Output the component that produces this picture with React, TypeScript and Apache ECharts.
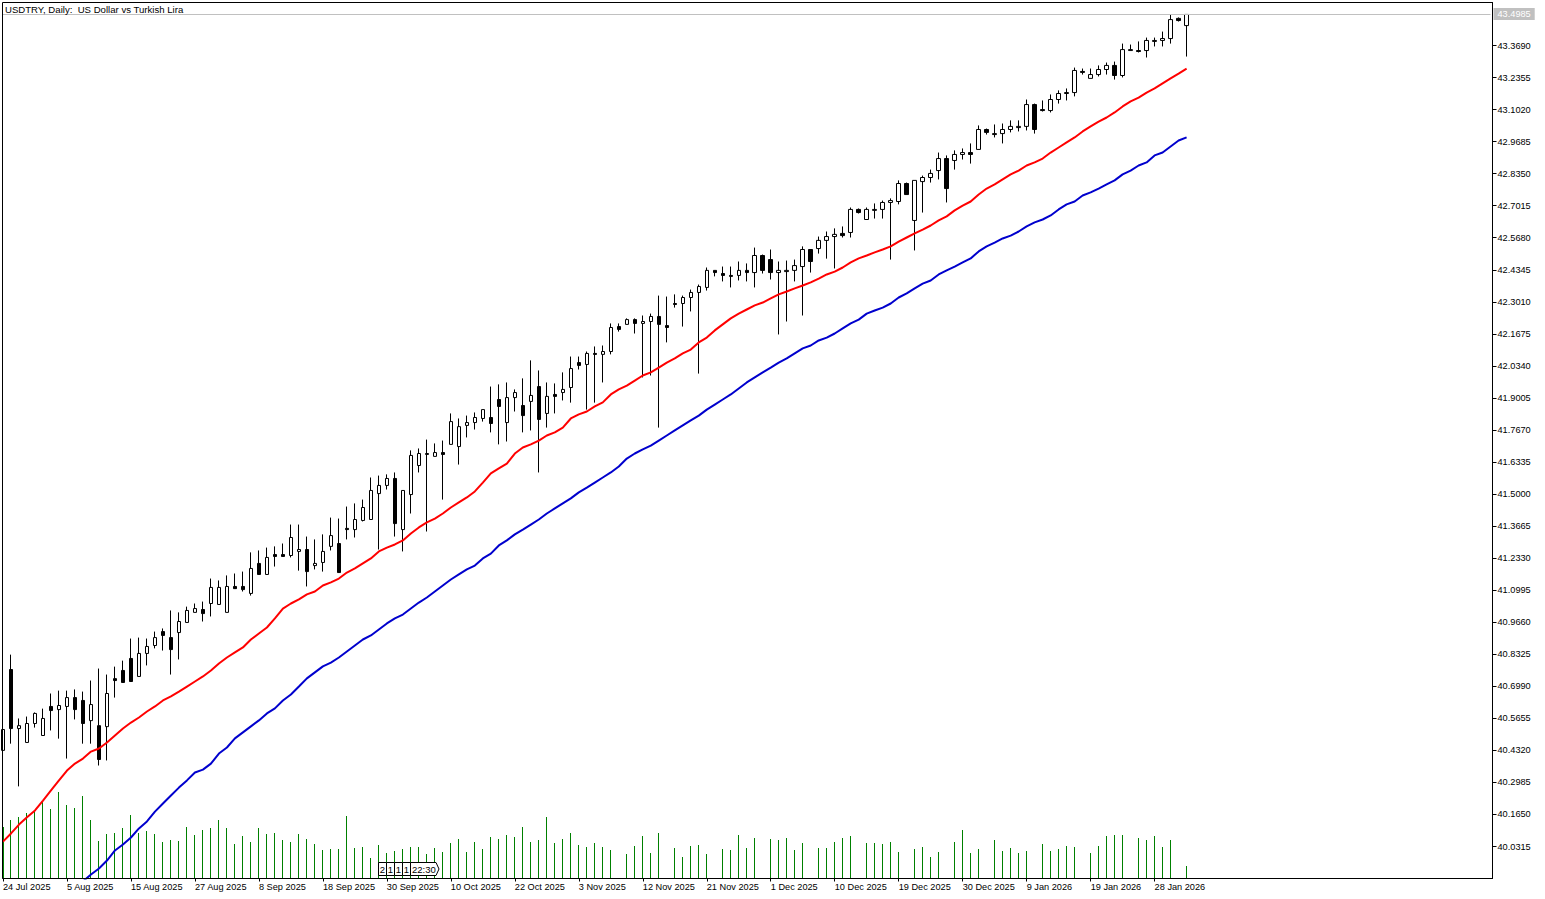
import React, { useEffect, useRef } from "react";
import * as echarts from "echarts";

const titleText = "USDTRY, Daily:  US Dollar vs Turkish Lira";
const lastPrice = 43.4985;

const tickDates = ["24 Jul 2025","5 Aug 2025","15 Aug 2025","27 Aug 2025","8 Sep 2025","18 Sep 2025","30 Sep 2025","10 Oct 2025","22 Oct 2025","3 Nov 2025","12 Nov 2025","21 Nov 2025","1 Dec 2025","10 Dec 2025","19 Dec 2025","30 Dec 2025","9 Jan 2026","19 Jan 2026","28 Jan 2026"];

const priceTicks = [40.0315,40.165,40.2985,40.432,40.5655,40.699,40.8325,40.966,41.0995,41.233,41.3665,41.5,41.6335,41.767,41.9005,42.034,42.1675,42.301,42.4345,42.568,42.7015,42.835,42.9685,43.102,43.2355,43.369];

const opens = [40.432,40.769,40.523,40.465,40.544,40.494,40.615,40.602,40.615,40.652,40.640,40.556,40.535,40.531,40.731,40.765,40.815,40.740,40.836,40.869,40.927,40.902,40.923,40.965,41.007,41.019,41.044,41.040,41.007,41.115,41.115,41.086,41.211,41.165,41.248,41.248,41.244,41.261,41.269,41.202,41.215,41.282,41.294,41.357,41.352,41.390,41.394,41.502,41.536,41.565,41.352,41.498,41.619,41.665,41.657,41.673,41.707,41.698,41.786,41.798,41.815,41.819,41.894,41.798,41.902,41.869,41.886,41.948,41.836,41.915,41.923,41.944,42.048,42.040,42.086,42.082,42.094,42.198,42.207,42.227,42.211,42.219,42.240,42.202,42.294,42.294,42.319,42.340,42.361,42.432,42.419,42.411,42.411,42.432,42.423,42.494,42.477,42.423,42.427,42.432,42.448,42.519,42.523,42.557,42.573,42.586,42.590,42.686,42.644,42.682,42.686,42.715,42.719,42.794,42.640,42.802,42.819,42.848,42.898,42.890,42.915,42.923,42.936,43.019,42.998,43.002,43.019,43.027,43.032,43.123,43.102,43.098,43.144,43.169,43.173,43.261,43.232,43.248,43.269,43.286,43.244,43.348,43.348,43.348,43.386,43.390,43.398,43.482,43.452];
const closes = [40.519,40.523,40.535,40.544,40.586,40.565,40.598,40.619,40.652,40.602,40.544,40.623,40.394,40.669,40.723,40.715,40.719,40.836,40.865,40.902,40.911,40.852,40.969,41.015,41.023,41.002,41.111,41.111,41.115,41.106,41.102,41.190,41.165,41.236,41.240,41.240,41.319,41.269,41.177,41.211,41.261,41.327,41.173,41.352,41.394,41.444,41.515,41.536,41.565,41.377,41.515,41.661,41.669,41.669,41.673,41.665,41.802,41.781,41.798,41.819,41.852,41.794,41.865,41.902,41.923,41.827,41.911,41.811,41.907,41.907,41.936,42.023,42.036,42.086,42.082,42.094,42.194,42.186,42.227,42.211,42.219,42.240,42.207,42.194,42.290,42.319,42.340,42.365,42.432,42.423,42.411,42.407,42.432,42.423,42.494,42.432,42.423,42.432,42.432,42.452,42.519,42.469,42.557,42.573,42.582,42.577,42.686,42.673,42.686,42.686,42.715,42.723,42.794,42.748,42.807,42.819,42.836,42.898,42.773,42.915,42.923,42.915,43.019,43.007,43.002,43.019,43.032,43.032,43.123,43.019,43.098,43.144,43.169,43.173,43.265,43.257,43.248,43.269,43.286,43.244,43.352,43.352,43.344,43.390,43.390,43.398,43.477,43.473,43.4985];
const highs = [40.527,40.831,40.565,40.573,40.590,40.606,40.669,40.681,40.681,40.686,40.677,40.723,40.773,40.748,40.781,40.806,40.898,40.902,40.898,40.927,40.940,41.015,41.007,41.031,41.044,41.052,41.148,41.140,41.161,41.169,41.177,41.257,41.265,41.277,41.282,41.294,41.373,41.373,41.323,41.311,41.332,41.402,41.398,41.448,41.461,41.477,41.569,41.577,41.582,41.590,41.515,41.682,41.690,41.727,41.711,41.723,41.836,41.815,41.827,41.840,41.852,41.948,41.957,41.965,41.936,41.982,42.057,42.015,41.965,41.961,42.007,42.073,42.073,42.094,42.115,42.119,42.211,42.211,42.232,42.232,42.244,42.252,42.327,42.323,42.332,42.327,42.352,42.373,42.444,42.432,42.448,42.448,42.469,42.461,42.527,42.498,42.519,42.469,42.473,42.477,42.532,42.519,42.573,42.594,42.607,42.615,42.694,42.690,42.694,42.711,42.723,42.732,42.807,42.798,42.807,42.827,42.852,42.923,42.911,42.932,42.940,42.961,43.036,43.023,43.040,43.044,43.057,43.057,43.144,43.127,43.140,43.165,43.182,43.190,43.277,43.273,43.273,43.286,43.298,43.302,43.377,43.373,43.386,43.402,43.402,43.427,43.498,43.486,43.4985];
const lows = [40.423,40.460,40.282,40.465,40.527,40.494,40.515,40.481,40.398,40.561,40.460,40.460,40.369,40.390,40.652,40.715,40.719,40.740,40.786,40.857,40.848,40.748,40.811,40.965,41.007,40.969,40.990,41.040,41.007,41.106,41.094,41.077,41.165,41.165,41.198,41.240,41.236,41.181,41.115,41.186,41.177,41.265,41.173,41.311,41.319,41.386,41.394,41.269,41.519,41.323,41.261,41.419,41.590,41.344,41.657,41.477,41.707,41.623,41.736,41.769,41.802,41.757,41.707,41.719,41.844,41.757,41.765,41.590,41.777,41.836,41.890,41.881,42.019,41.852,41.881,41.965,42.082,42.177,42.207,42.169,41.986,41.994,41.777,42.132,42.277,42.198,42.261,42.002,42.348,42.407,42.386,42.361,42.390,42.386,42.361,42.419,42.394,42.165,42.219,42.386,42.244,42.423,42.502,42.481,42.440,42.569,42.569,42.669,42.644,42.648,42.648,42.477,42.707,42.748,42.515,42.673,42.798,42.811,42.715,42.852,42.894,42.877,42.936,42.998,42.986,42.961,43.007,43.011,43.015,43.002,43.094,43.090,43.127,43.140,43.157,43.248,43.232,43.240,43.248,43.227,43.236,43.348,43.340,43.319,43.365,43.365,43.377,43.469,43.323];

const smaFast = [40.052,40.086,40.123,40.153,40.182,40.223,40.265,40.307,40.348,40.377,40.398,40.427,40.440,40.465,40.494,40.523,40.548,40.569,40.594,40.615,40.640,40.657,40.677,40.698,40.719,40.740,40.765,40.794,40.819,40.840,40.861,40.894,40.919,40.944,40.982,41.023,41.044,41.061,41.082,41.094,41.119,41.132,41.148,41.173,41.190,41.211,41.232,41.261,41.277,41.290,41.307,41.336,41.361,41.382,41.398,41.419,41.444,41.465,41.486,41.511,41.548,41.586,41.607,41.627,41.669,41.694,41.707,41.723,41.744,41.757,41.777,41.815,41.832,41.844,41.865,41.882,41.915,41.936,41.952,41.973,41.994,42.007,42.027,42.048,42.065,42.086,42.102,42.132,42.152,42.182,42.207,42.232,42.252,42.269,42.286,42.298,42.315,42.332,42.344,42.357,42.369,42.382,42.398,42.415,42.427,42.444,42.465,42.482,42.494,42.507,42.519,42.532,42.552,42.569,42.586,42.602,42.619,42.640,42.657,42.682,42.702,42.719,42.748,42.773,42.790,42.811,42.832,42.848,42.869,42.882,42.898,42.923,42.944,42.965,42.986,43.011,43.032,43.052,43.069,43.090,43.115,43.136,43.152,43.173,43.190,43.211,43.232,43.252,43.273];
const smaSlow = [null,null,null,null,null,null,null,null,null,null,39.886,39.915,39.940,39.973,40.015,40.040,40.069,40.107,40.136,40.177,40.211,40.244,40.277,40.307,40.340,40.352,40.377,40.419,40.444,40.482,40.507,40.532,40.557,40.586,40.607,40.640,40.665,40.698,40.732,40.757,40.782,40.798,40.819,40.844,40.869,40.894,40.911,40.936,40.961,40.982,40.998,41.023,41.048,41.069,41.094,41.119,41.144,41.165,41.186,41.202,41.232,41.252,41.286,41.307,41.332,41.352,41.373,41.394,41.419,41.440,41.461,41.482,41.507,41.527,41.548,41.569,41.590,41.615,41.648,41.669,41.686,41.702,41.723,41.744,41.765,41.786,41.807,41.827,41.852,41.873,41.894,41.915,41.940,41.965,41.986,42.007,42.027,42.048,42.065,42.086,42.107,42.119,42.140,42.152,42.169,42.190,42.211,42.227,42.252,42.265,42.277,42.294,42.319,42.336,42.357,42.377,42.390,42.415,42.432,42.448,42.465,42.482,42.511,42.532,42.548,42.565,42.577,42.594,42.615,42.632,42.644,42.661,42.686,42.707,42.719,42.744,42.757,42.773,42.790,42.807,42.832,42.848,42.869,42.882,42.911,42.923,42.948,42.973,42.986];
const volumes = [52,59,62,66,67,77,70,87,74,71,83,59,38,45,46,51,64,46,48,45,37,39,38,52,44,49,51,59,51,35,43,37,51,45,46,39,37,45,40,35,29,30,30,63,31,32,21,34,26,28,30,32,32,25,31,27,36,40,27,37,30,42,40,44,42,52,37,39,62,36,40,46,34,32,36,32,29,1,25,33,43,26,46,1,31,22,33,34,25,0,30,29,44,31,41,1,40,39,41,29,36,1,31,31,37,41,43,0,36,36,35,37,27,0,30,32,22,27,1,37,49,26,30,0,39,28,31,26,28,1,35,28,30,33,32,0,26,33,43,44,44,0,41,39,43,32,39,1,13];

const boxLabels = ["2", "1", "1", "1"];
const clockLabel = "22:30";

const SLOTS = 187;
const TICK_STEP = 8;
const categories = Array.from({ length: SLOTS }, (_, i) => tickDates[i / TICK_STEP] ?? "");
const candles = opens.map((o, i) => [o, closes[i], lows[i], highs[i]]);
const volumePoints = volumes.map((v, i) => [i, v]);
const isDateTick = (i: number) => i % TICK_STEP === 0 && i / TICK_STEP < tickDates.length;

const FONT = "'Liberation Sans', Arial, sans-serif";

export default function App() {
  const ref = useRef<HTMLDivElement>(null);
  useEffect(() => {
    if (!ref.current) return;
    const chart = echarts.init(ref.current, undefined, { renderer: "svg" });
    const boxes = boxLabels.flatMap((t, i) => [
      { type: "rect", z: 50, shape: { x: 378.5 + i * 8, y: 862.5, width: 8, height: 13 }, style: { fill: "#fff", stroke: "#000", lineWidth: 1 } },
      { type: "text", z: 51, x: 382.5 + i * 8, y: 869, style: { text: t, fill: "#000", font: `9.5px ${FONT}`, align: "center", verticalAlign: "middle" } },
    ]);
    chart.setOption({
      animation: false,
      backgroundColor: "#fff",
      title: { text: titleText, left: 5, top: 4, padding: 0, textStyle: { fontFamily: FONT, fontSize: 9.6, fontWeight: "normal", color: "#000", lineHeight: 10 } },
      grid: { left: 2.5, top: 2.5, width: 1488, height: 876, containLabel: false },
      graphic: [
        { type: "rect", z: 40, silent: true, shape: { x: 2.5, y: 2.5, width: 1490, height: 876 }, style: { fill: "none", stroke: "#000", lineWidth: 1 } },
        ...boxes,
        { type: "polygon", z: 50, shape: { points: [[410.5, 862.5], [436, 862.5], [439, 869], [436, 875.5], [410.5, 875.5]] }, style: { fill: "#fff", stroke: "#000", lineWidth: 1 } },
        { type: "text", z: 51, x: 412, y: 869, style: { text: clockLabel, fill: "#000", font: `9.5px ${FONT}`, align: "left", verticalAlign: "middle" } },
      ],
      xAxis: {
        type: "category",
        data: categories,
        boundaryGap: false,
        axisLine: { show: true, lineStyle: { color: "#000" } },
        axisTick: { show: true, length: 3, interval: (i: number) => isDateTick(i), lineStyle: { color: "#000" } },
        axisLabel: { show: true, interval: (i: number) => isDateTick(i), align: "left", margin: 4, color: "#000", fontFamily: FONT, fontSize: 9.2 },
        splitLine: { show: false },
      },
      yAxis: [
        {
          type: "value",
          position: "right",
          offset: 2,
          min: 39.8982,
          max: 43.5482,
          scale: true,
          splitLine: { show: false },
          axisLine: { show: true, lineStyle: { color: "#000" } },
          axisTick: { show: true, length: 4, customValues: priceTicks, lineStyle: { color: "#000" } },
          axisLabel: { show: true, customValues: priceTicks, margin: 5, color: "#000", fontFamily: FONT, fontSize: 9.2, formatter: (v: number) => v.toFixed(4) },
        },
        { type: "value", min: 0, max: 876, show: false, splitLine: { show: false } },
      ],
      series: [
        {
          name: "Volume",
          type: "custom",
          yAxisIndex: 1,
          data: volumePoints,
          encode: { x: 0, y: 1 },
          silent: true,
          z: 1,
          renderItem: (_p: any, api: any) => {
            const top = api.coord([api.value(0), api.value(1)]);
            const base = api.coord([api.value(0), 0]);
            const y0 = Math.round(top[1]);
            const y1 = Math.round(base[1]);
            return { type: "rect", shape: { x: Math.floor(top[0]), y: y0, width: 1, height: y1 - y0 }, style: { fill: "#008000" } };
          },
        },
        {
          name: "USDTRY",
          type: "candlestick",
          data: candles,
          barWidth: 4,
          z: 2,
          itemStyle: { color: "#fff", color0: "#000", borderColor: "#000", borderColor0: "#000", borderColorDoji: "#000", borderWidth: 1 },
          markLine: {
            silent: true,
            symbol: "none",
            animation: false,
            lineStyle: { color: "#c0c0c0", type: "solid", width: 1 },
            label: { show: true, position: "end", distance: 3, formatter: lastPrice.toFixed(4), color: "#fff", backgroundColor: "#c0c0c0", padding: [2, 4, 1, 4], fontFamily: FONT, fontSize: 9.2 },
            data: [{ yAxis: lastPrice }],
          },
        },
        { name: "SMA fast", type: "line", data: smaFast, showSymbol: false, symbol: "none", smooth: false, z: 3, lineStyle: { color: "#ff0000", width: 2 } },
        { name: "SMA slow", type: "line", data: smaSlow, showSymbol: false, symbol: "none", smooth: false, z: 3, lineStyle: { color: "#0000cd", width: 2 } },
      ],
    });
    return () => chart.dispose();
  }, []);
  return <div ref={ref} style={{ position: "absolute", left: 0, top: 0, width: 1545, height: 899 }} />;
}
